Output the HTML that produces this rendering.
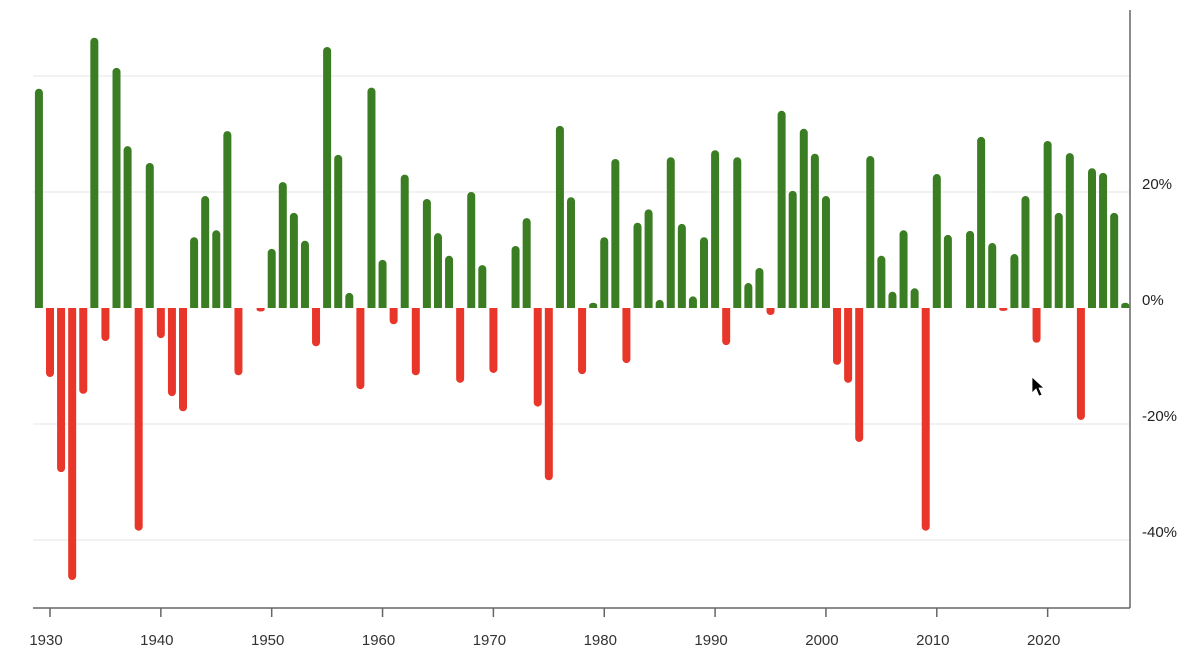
<!DOCTYPE html>
<html><head><meta charset="utf-8"><style>
html,body{margin:0;padding:0;background:#fff;}
svg{display:block;font-family:"Liberation Sans",Arial,sans-serif;}
</style></head><body>
<svg id="c" width="1200" height="672" viewBox="0 0 1200 672" xmlns="http://www.w3.org/2000/svg">
<g stroke="#e4e4e4" stroke-width="1">
<line x1="33" x2="1130" y1="76" y2="76"/>
<line x1="33" x2="1130" y1="192" y2="192"/>
<line x1="33" x2="1130" y1="424" y2="424"/>
<line x1="33" x2="1130" y1="540" y2="540"/>
</g>
<g id="bars"></g>
<g stroke="#666" stroke-width="1.5" fill="none">
<line x1="1130" y1="10" x2="1130" y2="608"/>
<line x1="33" y1="608" x2="1130" y2="608"/>
</g>
<g id="xt" stroke="#666" stroke-width="1.5"></g>
<g fill="#222" font-size="15">
<text x="1142" y="189">20%</text>
<text x="1142" y="305">0%</text>
<text x="1142" y="421">-20%</text>
<text x="1142" y="537">-40%</text>
</g>
<g id="xl" fill="#333" font-size="15" text-anchor="middle"></g>
<polygon points="1032,377 1032,393 1036,389 1039,396 1042,395 1039,388 1044,388" fill="#000" stroke="#fff" stroke-width="0.8"/>
</svg>
<script>
var v={1929:37.8,1930:-11.9,1931:-28.3,1932:-46.9,1933:-14.8,1934:46.6,1935:-5.7,1936:41.4,1937:27.9,1938:-38.4,1939:25,1940:-5.2,1941:-15.2,1942:-17.8,1943:12.2,1944:19.3,1945:13.4,1946:30.5,1947:-11.6,1949:-0.6,1950:10.2,1951:21.7,1952:16.4,1953:11.6,1954:-6.6,1955:45,1956:26.4,1957:2.6,1958:-14,1959:38,1960:8.3,1961:-2.8,1962:23,1963:-11.6,1964:18.8,1965:12.9,1966:9,1967:-12.9,1968:20,1969:7.4,1970:-11.2,1972:10.7,1973:15.5,1974:-17,1975:-29.7,1976:31.4,1977:19.1,1978:-11.4,1979:0.9,1980:12.2,1981:25.7,1982:-9.5,1983:14.7,1984:17,1985:1.4,1986:26,1987:14.5,1988:2,1989:12.2,1990:27.2,1991:-6.4,1992:26,1993:4.3,1994:6.9,1995:-1.2,1996:34,1997:20.2,1998:30.9,1999:26.6,2000:19.3,2001:-9.8,2002:-12.9,2003:-23.1,2004:26.2,2005:9,2006:2.8,2007:13.4,2008:3.4,2009:-38.4,2010:23.1,2011:12.6,2013:13.3,2014:29.5,2015:11.2,2016:-0.5,2017:9.3,2018:19.3,2019:-6,2020:28.8,2021:16.4,2022:26.7,2023:-19.3,2024:24.1,2025:23.3,2026:16.4,2027:0.9};
var ns="http://www.w3.org/2000/svg",g=document.getElementById("bars");
function X(y){return 50+(y-1930)*11.085;}
var s="";
for(var y in v){var val=v[y],cx=X(+y),w=8,x0=cx-w/2,h=Math.abs(val)*5.8,r=Math.min(4,h/2);
 if(val>0){var t=308-h;s+='<path fill="#3a7d22" d="M'+x0+' 308 V'+(t+r)+' A'+(w/2)+' '+r+' 0 0 1 '+(x0+w)+' '+(t+r)+' V308 Z"/>';}
 else{var b=308+h;s+='<path fill="#e8372a" d="M'+x0+' 308 V'+(b-r)+' A'+(w/2)+' '+r+' 0 0 0 '+(x0+w)+' '+(b-r)+' V308 Z"/>';}}
g.innerHTML=s;
var t="",l="";
for(var yr=1930;yr<=2020;yr+=10){var x=X(yr);t+='<line x1="'+x+'" x2="'+x+'" y1="608" y2="617"/>';l+='<text x="'+(x-4)+'" y="645">'+yr+'</text>';}
document.getElementById("xt").innerHTML=t;document.getElementById("xl").innerHTML=l;
</script>
</body></html>
